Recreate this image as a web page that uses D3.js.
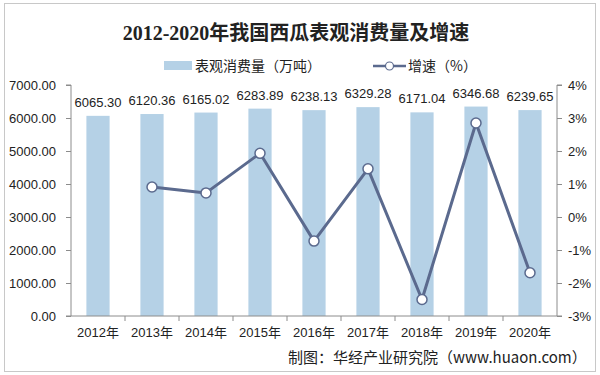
<!DOCTYPE html>
<html>
<head>
<meta charset="utf-8">
<script src="https://cdn.jsdelivr.net/npm/d3@7"></script>
<style>
  body { margin: 0; background: #fff; }
  svg { display: block; }
  text { font-family: "Liberation Sans", Arial, "Noto Sans CJK SC", sans-serif; fill: #222; }
</style>
</head>
<body>
<svg id="chart"></svg>
<script>
const years = ["2012年", "2013年", "2014年", "2015年", "2016年", "2017年", "2018年", "2019年", "2020年"];
const consumption = [6065.30, 6120.36, 6165.02, 6283.89, 6238.13, 6329.28, 6171.04, 6346.68, 6239.65];
// growth starts at 2013
const growthYears = ["2013年", "2014年", "2015年", "2016年", "2017年", "2018年", "2019年", "2020年"];
const growth = [0.91, 0.73, 1.93, -0.73, 1.46, -2.50, 2.85, -1.69];
const leftTicks = [0, 1000, 2000, 3000, 4000, 5000, 6000, 7000];
const rightTicks = [-3, -2, -1, 0, 1, 2, 3, 4];

const width = 600;
const height = 375;
const margin = { top: 85, right: 43, bottom: 59, left: 71 };

const barColor = "#b5d1e6";
const lineColor = "#5b6a8e";
const axisColor = "#8c8c8c";

const svg = d3.select("#chart").attr("width", width).attr("height", height);

// outer frame
svg.append("rect")
  .attr("x", 4.5).attr("y", 3.5)
  .attr("width", width - 9).attr("height", 368)
  .attr("fill", "none")
  .attr("stroke", "#c8c8c8");

// title
svg.append("text")
  .attr("x", 296)
  .attr("y", 40)
  .attr("text-anchor", "middle")
  .style("font-family", "'Liberation Serif', 'DejaVu Serif', 'Noto Sans CJK SC', serif")
  .style("font-size", "20px")
  .style("font-weight", "bold")
  .text("2012-2020年我国西瓜表观消费量及增速");

// scales
const x = d3.scaleBand()
  .domain(years)
  .range([margin.left, width - margin.right])
  .paddingInner(0.57)
  .paddingOuter(0.285);

const yLeft = d3.scaleLinear()
  .domain([0, 7000])
  .range([height - margin.bottom, margin.top]);

const yRight = d3.scaleLinear()
  .domain([-3, 4])
  .range([height - margin.bottom, margin.top]);

// bars
svg.append("g")
  .selectAll("rect")
  .data(years.map((y, i) => ({ year: y, value: consumption[i] })))
  .join("rect")
  .attr("x", d => x(d.year))
  .attr("y", d => yLeft(d.value))
  .attr("width", x.bandwidth())
  .attr("height", d => yLeft(0) - yLeft(d.value))
  .attr("fill", barColor);

// bar value labels
svg.append("g")
  .selectAll("text")
  .data(years.map((y, i) => ({ year: y, value: consumption[i] })))
  .join("text")
  .attr("x", d => x(d.year) + x.bandwidth() / 2)
  .attr("y", d => yLeft(d.value) - 9)
  .attr("text-anchor", "middle")
  .style("font-size", "13px")
  .text(d => d.value.toFixed(2));

// axes
const leftAxis = svg.append("g")
  .attr("transform", `translate(${margin.left},0)`)
  .call(d3.axisLeft(yLeft).tickValues(leftTicks).tickFormat(d3.format(".2f")).tickSize(5).tickPadding(10));

const rightAxis = svg.append("g")
  .attr("transform", `translate(${width - margin.right},0)`)
  .call(d3.axisRight(yRight).tickValues(rightTicks).tickFormat(d => d + "%").tickSize(5).tickPadding(6));

const bottomAxis = svg.append("g")
  .attr("transform", `translate(0,${height - margin.bottom})`)
  .call(d3.axisBottom(x).tickSize(0).tickPadding(12));

// category separator ticks on the x axis
const sep = d => x(d) - (x.step() - x.bandwidth()) / 2;
svg.append("g")
  .selectAll("line")
  .data(years.slice(1))
  .join("line")
  .attr("x1", sep)
  .attr("x2", sep)
  .attr("y1", height - margin.bottom)
  .attr("y2", height - margin.bottom + 5)
  .attr("stroke", axisColor);

[leftAxis, rightAxis, bottomAxis].forEach(g => {
  g.select(".domain").attr("stroke", axisColor);
  g.selectAll(".tick line").attr("stroke", axisColor);
  g.selectAll(".tick text")
    .style("font-family", "'Liberation Sans', Arial, 'Noto Sans CJK SC', sans-serif")
    .style("font-size", "13px")
    .attr("fill", "#222");
});
bottomAxis.select(".domain").attr("d", `M${margin.left},0H${width - margin.right}`);
leftAxis.select(".domain").attr("d", `M-5,${margin.top}H0V${height - margin.bottom}H-5`);
rightAxis.select(".domain").attr("d", `M5,${margin.top}H0V${height - margin.bottom}H5`);

// growth line
const cx = d => x(d.year) + x.bandwidth() / 2;
const growthData = growthYears.map((y, i) => ({ year: y, value: growth[i] }));

svg.append("path")
  .datum(growthData)
  .attr("fill", "none")
  .attr("stroke", lineColor)
  .attr("stroke-width", 3)
  .attr("stroke-linejoin", "round")
  .attr("d", d3.line().x(cx).y(d => yRight(d.value)));

svg.append("g")
  .selectAll("circle")
  .data(growthData)
  .join("circle")
  .attr("cx", cx)
  .attr("cy", d => yRight(d.value))
  .attr("r", 5)
  .attr("fill", "#fff")
  .attr("stroke", lineColor)
  .attr("stroke-width", 1.5);

// legend
const legend = svg.append("g").style("font-size", "14px");
legend.append("rect")
  .attr("x", 164).attr("y", 61)
  .attr("width", 28).attr("height", 9)
  .attr("fill", barColor);
legend.append("text")
  .attr("x", 195).attr("y", 71)
  .style("font-family", "'Noto Sans CJK SC', sans-serif")
  .text("表观消费量（万吨）");
legend.append("line")
  .attr("x1", 373).attr("x2", 406)
  .attr("y1", 66).attr("y2", 66)
  .attr("stroke", lineColor)
  .attr("stroke-width", 2.5);
legend.append("circle")
  .attr("cx", 389.5).attr("cy", 66).attr("r", 4)
  .attr("fill", "#fff")
  .attr("stroke", lineColor)
  .attr("stroke-width", 1.2);
legend.append("text")
  .attr("x", 408).attr("y", 71)
  .style("font-family", "'Noto Sans CJK SC', sans-serif")
  .text("增速（%）");

// source
svg.append("text")
  .attr("x", 288)
  .attr("y", 363)
  .style("font-family", "'Noto Sans CJK SC', sans-serif")
  .style("font-size", "15px")
  .text("制图：华经产业研究院（www.huaon.com）");
</script>
</body>
</html>
